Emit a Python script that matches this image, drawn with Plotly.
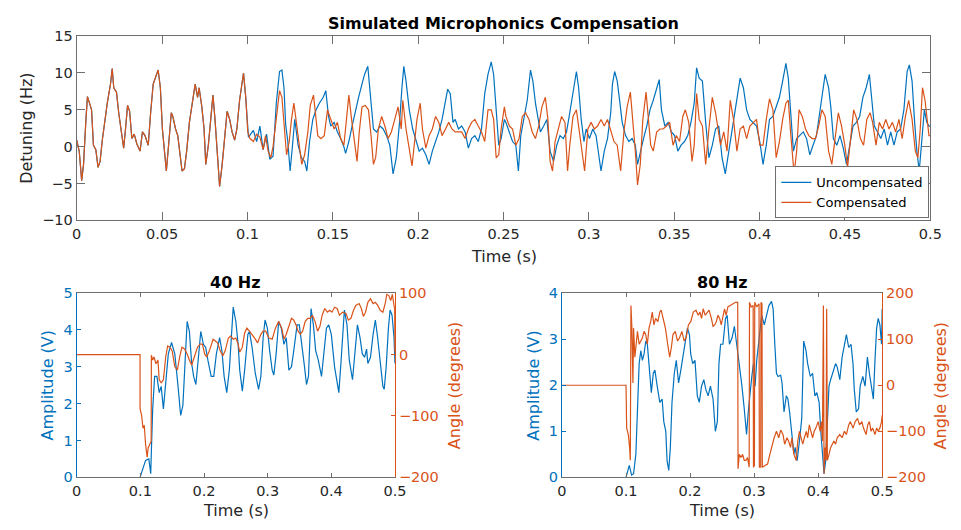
import plotly.graph_objects as go

BLUE = '#0072BD'
ORANGE = '#D95319'
LINE_GRAY = '#6e6e6e'
TEXT = '#262626'
FONT = 'DejaVu Sans'
W, H = 961, 530

# ---------------- data: top panel (time s, detuning Hz) ----------------
# shared segment before compensation switches on (both curves identical)
shared_before = [(0.0, 0.9), (0.0015, -0.65), (0.0029, -4.6), (0.004, -2.4), (0.0054, 3.7), (0.0063, 6.8),
    (0.0079, 5.6), (0.0087, 5.0), (0.0098, 0.2), (0.0112, -0.4), (0.0125, -2.8), (0.0137, -2.0), (0.015, 0.9),
    (0.0163, 3.3), (0.0179, 5.9), (0.0198, 8.5), (0.0208, 10.6), (0.0217, 8.0), (0.0233, 7.4), (0.0246, 4.6),
    (0.026, 2.0), (0.0275, -0.2), (0.0285, 2.2), (0.0298, 5.6), (0.031, 4.8), (0.0323, 1.1), (0.0337, 1.7),
    (0.0352, 0.4), (0.0371, -0.6), (0.0385, 2.0), (0.04, 1.5), (0.0419, 0.2), (0.0433, 4.6), (0.0448, 8.5),
    (0.0477, 10.4), (0.049, 8.0), (0.0502, 2.4), (0.0515, -1.5), (0.0525, -3.3), (0.054, 0.7), (0.0554, 4.6),
    (0.0563, 4.1), (0.0579, 2.4), (0.0592, 1.5), (0.0606, -1.5), (0.0617, -3.3), (0.0631, -3.0), (0.0644, -0.6),
    (0.066, 3.3), (0.0679, 5.9), (0.0694, 8.5), (0.0708, 6.7), (0.0717, 8.0), (0.0733, 5.4), (0.0746, 2.4),
    (0.0756, -2.4), (0.0771, 0.2), (0.0785, 3.7), (0.0798, 7.0), (0.081, 3.7), (0.0823, -0.6), (0.0837, -5.4),
    (0.0852, -2.4), (0.0867, 1.1), (0.0881, 4.8), (0.0896, 3.7), (0.091, 2.0), (0.0925, 0.9), (0.0938, 2.4),
    (0.0954, 6.3), (0.0977, 10.0), (0.099, 6.7)]

uncompensated_after = [(0.1006, 1.3), (0.1035, 2.2), (0.1054, 0.7), (0.1073, 2.8), (0.1092, -0.4), (0.1112, 1.7),
    (0.1131, -1.7), (0.115, -1.3), (0.1169, 5.9), (0.1188, 10.2), (0.1202, 10.4), (0.1214, 8.0), (0.1224, 3.0),
    (0.1236, 0.8), (0.125, -3.3), (0.1264, 0.2), (0.1277, 3.7), (0.1297, 0.2), (0.1316, -1.5), (0.1335, -2.0),
    (0.1348, -3.3), (0.1364, 0.7), (0.1383, 3.7), (0.1402, 5.0), (0.1421, 5.9), (0.1444, 6.7), (0.1459, 7.6),
    (0.1475, 4.1), (0.1488, 2.8), (0.1508, 3.3), (0.1527, 2.0), (0.1546, 1.1), (0.1565, 0.0), (0.1575, -0.9),
    (0.1594, 0.7), (0.1613, 2.8), (0.1632, 5.0), (0.1651, 6.7), (0.1671, 8.5), (0.1686, 9.8), (0.1705, 10.9),
    (0.1718, 7.6), (0.1738, 2.4), (0.1757, 2.0), (0.1776, 2.8), (0.1795, 2.4), (0.1815, 1.5), (0.1834, 0.2),
    (0.1853, -3.7), (0.1872, -1.5), (0.1891, 3.3), (0.1905, 8.0), (0.1916, 10.9), (0.1929, 8.9), (0.1948, 5.0),
    (0.1968, 2.4), (0.1987, 0.7), (0.2006, -0.6), (0.2025, -0.2), (0.2045, -1.1), (0.2064, -2.4), (0.2083, -0.6),
    (0.2102, 0.7), (0.2121, 2.0), (0.214, 3.7), (0.216, 5.9), (0.2173, 7.8), (0.2188, 7.2), (0.2204, 3.3),
    (0.2217, 3.7), (0.2236, 2.4), (0.2255, 2.8), (0.2275, 2.0), (0.2294, -0.2), (0.2313, 1.1), (0.2332, 1.5),
    (0.2352, 0.7), (0.2371, 2.4), (0.239, 7.2), (0.2409, 9.8), (0.2428, 11.5), (0.2442, 9.8), (0.2457, 4.6),
    (0.2472, 0.2), (0.2486, 1.1), (0.2505, 3.7), (0.2514, 3.3), (0.2534, 2.0), (0.2553, 0.7), (0.2572, 0.2),
    (0.2587, -3.3), (0.2601, 1.5), (0.262, 3.7), (0.2639, 6.3), (0.2658, 10.4), (0.2672, 8.9), (0.2687, 5.9),
    (0.2702, 3.7), (0.2716, 2.0), (0.2735, 2.8), (0.2754, 3.7), (0.2773, -0.6), (0.2793, -2.0), (0.2812, 0.2),
    (0.2831, 1.5), (0.285, 1.1), (0.2869, 2.0), (0.2888, 4.6), (0.2907, 7.6), (0.2927, 10.2), (0.294, 8.0),
    (0.2955, 3.7), (0.2971, 0.7), (0.2984, 2.4), (0.3003, 1.1), (0.3023, 2.4), (0.3042, 1.5), (0.3055, -0.6),
    (0.3071, -3.3), (0.309, -0.6), (0.3109, 1.1), (0.3128, 4.6), (0.3138, 8.5), (0.3151, 10.2), (0.3166, 8.9),
    (0.3182, 5.9), (0.3195, 3.3), (0.3215, 1.5), (0.3234, 0.7), (0.3253, 1.1), (0.3272, 0.2), (0.3285, -2.4),
    (0.3301, -0.6), (0.332, 1.1), (0.3339, 2.8), (0.3358, 5.0), (0.3377, 6.3), (0.3397, 8.0), (0.3412, 9.1),
    (0.3425, 5.0), (0.3445, 2.8), (0.3464, 3.3), (0.3483, 2.0), (0.3502, 1.5), (0.3521, -0.6), (0.354, 0.2),
    (0.356, 0.7), (0.3579, 1.5), (0.3598, 3.3), (0.3617, 5.9), (0.3631, 10.7), (0.3646, 9.3), (0.3665, 8.9),
    (0.3684, 3.3), (0.3703, -1.5), (0.3723, 0.2), (0.3742, 2.4), (0.3761, 2.8), (0.378, -1.5), (0.3799, -3.7),
    (0.3819, -0.6), (0.3838, 2.4), (0.3857, 5.4), (0.3886, 9.3), (0.3905, 8.0), (0.3924, 5.0), (0.3943, 3.7),
    (0.3963, 3.3), (0.3982, 2.8), (0.4001, 0.7), (0.402, -2.4), (0.4039, 0.2), (0.4058, 3.7), (0.4078, 4.1),
    (0.4097, 5.4), (0.4116, 6.7), (0.4135, 8.9), (0.4154, 11.3), (0.4168, 9.3), (0.4183, 3.7), (0.4198, -0.6),
    (0.4217, 1.1), (0.4237, 1.5), (0.4256, 2.0), (0.4275, 1.1), (0.4294, -1.1), (0.4313, 0.2), (0.4333, 1.5),
    (0.4352, 4.6), (0.4371, 7.6), (0.4384, 9.8), (0.4404, 8.0), (0.4417, 5.4), (0.4432, 1.1), (0.4452, 0.2),
    (0.4471, 1.5), (0.449, -0.2), (0.4509, -2.4), (0.4528, 0.2), (0.4547, 2.8), (0.4567, 3.3), (0.4586, 4.1),
    (0.4605, 6.7), (0.4624, 8.0), (0.4643, 9.8), (0.4659, 6.3), (0.4672, 2.8), (0.4691, 2.0), (0.471, 1.1),
    (0.473, 2.4), (0.4749, 0.2), (0.4768, 2.0), (0.4787, 0.2), (0.4806, 2.0), (0.4826, 2.4), (0.4845, 5.0),
    (0.4864, 10.2), (0.4877, 11.1), (0.4893, 8.9), (0.4908, 3.3), (0.4921, -0.6), (0.4935, -3.3), (0.495, 1.5),
    (0.4965, 5.0), (0.4979, 3.3), (0.4992, 2.8), (0.5, 2.8)]

compensated_after = [(0.1002, 2.0), (0.1015, 1.1), (0.1035, 0.7), (0.1054, 1.7), (0.1073, 1.3), (0.1092, -0.4),
    (0.1106, 1.5), (0.1121, -0.6), (0.1137, -1.5), (0.115, 0.0), (0.1169, 4.1), (0.1188, 7.6), (0.1202, 6.7),
    (0.1215, 2.5), (0.1229, -1.1), (0.1245, 0.7), (0.1258, 3.7), (0.1272, 5.9), (0.1287, 3.3), (0.1302, 1.1),
    (0.1318, -2.4), (0.1335, -1.1), (0.1354, 2.0), (0.1368, 5.6), (0.1387, 7.0), (0.1398, 4.6), (0.1412, 1.5),
    (0.1431, 1.1), (0.145, 1.5), (0.1469, 5.0), (0.1488, 3.7), (0.1508, 2.4), (0.1527, 3.3), (0.1546, 1.1),
    (0.1565, 0.2), (0.1575, 2.4), (0.1594, 7.0), (0.161, 3.7), (0.1629, 0.2), (0.1642, -2.0), (0.1655, 2.0),
    (0.1671, 5.4), (0.169, 5.6), (0.1709, 5.0), (0.1724, 1.5), (0.1738, -2.4), (0.1751, -1.5), (0.1767, 2.4),
    (0.1786, 4.1), (0.1805, 2.8), (0.1824, 1.1), (0.1843, 2.0), (0.1863, 3.7), (0.1882, 5.4), (0.1901, 2.4),
    (0.191, 6.3), (0.1929, 2.4), (0.1948, -0.6), (0.1964, -2.6), (0.1977, 0.2), (0.1993, 3.7), (0.2012, 5.9),
    (0.2025, 2.4), (0.2045, -0.2), (0.2064, 1.5), (0.2083, 2.4), (0.2102, 4.1), (0.2121, 3.3), (0.214, 1.5),
    (0.216, 2.4), (0.2179, 3.3), (0.2198, 2.4), (0.2217, 2.0), (0.2236, 2.0), (0.2255, 2.0), (0.2275, 1.1),
    (0.2294, 2.4), (0.2313, 3.3), (0.2332, 3.7), (0.2352, 2.8), (0.2371, 2.0), (0.239, 0.7), (0.2409, 5.0),
    (0.2428, 5.0), (0.2442, 3.7), (0.2457, -1.5), (0.2472, -1.1), (0.2486, 2.4), (0.2505, 5.4), (0.2514, 4.1),
    (0.2534, 2.8), (0.2553, 2.4), (0.2572, 0.2), (0.2591, 1.1), (0.261, 4.1), (0.2629, 4.6), (0.2649, 3.7),
    (0.2668, 2.0), (0.2687, 1.1), (0.2706, 2.8), (0.2725, 5.4), (0.2745, 6.7), (0.276, 3.7), (0.2773, -2.0),
    (0.2787, -3.3), (0.2802, 0.7), (0.2821, 2.4), (0.284, 4.1), (0.286, 3.3), (0.2875, -3.3), (0.2888, 0.2),
    (0.2907, 4.1), (0.2927, 5.0), (0.2946, 1.5), (0.2959, -0.6), (0.2975, -3.3), (0.2994, 2.4), (0.3013, 3.3),
    (0.3032, 2.4), (0.3051, 2.8), (0.3071, 3.7), (0.309, 2.8), (0.3109, 3.7), (0.3128, 2.0), (0.3147, 0.7),
    (0.3166, 0.2), (0.3186, -3.3), (0.3205, 2.0), (0.3224, 5.4), (0.3243, 7.4), (0.3258, 3.7), (0.3272, -0.6),
    (0.3285, -5.2), (0.3301, -2.4), (0.3316, 3.7), (0.3335, 7.4), (0.3349, 3.7), (0.3362, 0.2), (0.3377, -0.6),
    (0.3397, 2.0), (0.3416, 2.4), (0.3435, 2.4), (0.3454, 2.8), (0.3473, 3.3), (0.3493, 0.2), (0.3512, 1.5),
    (0.3531, 0.7), (0.355, 4.1), (0.3565, 5.0), (0.3585, 3.3), (0.3604, -2.0), (0.3617, 0.2), (0.3631, 7.2),
    (0.3646, 3.7), (0.3665, 2.8), (0.3684, -2.4), (0.3703, 2.4), (0.3723, 6.7), (0.3742, 4.6), (0.3761, 1.5),
    (0.3771, 0.2), (0.379, 2.0), (0.3809, -0.6), (0.3828, 6.3), (0.3847, 3.7), (0.3867, -0.6), (0.3886, 2.4),
    (0.3905, 2.8), (0.3924, 1.1), (0.3943, 2.8), (0.3963, 3.3), (0.3982, 3.7), (0.4001, 0.2), (0.402, 0.2),
    (0.4039, 3.7), (0.4058, 6.5), (0.4078, 5.0), (0.4097, -1.5), (0.4116, 0.7), (0.4135, 3.7), (0.4154, 5.9),
    (0.4168, 6.3), (0.4183, 1.5), (0.4202, -3.7), (0.4217, -0.6), (0.4231, 5.0), (0.425, 4.1), (0.4269, 2.4),
    (0.4288, 1.5), (0.4308, 1.1), (0.4327, 1.1), (0.4346, 2.8), (0.4365, 5.0), (0.4384, 4.1), (0.4404, -0.6),
    (0.4423, -2.4), (0.4442, 1.1), (0.4461, 4.6), (0.448, 2.8), (0.4499, 0.2), (0.4515, -2.8), (0.4532, 1.1),
    (0.4551, 5.0), (0.457, 3.7), (0.459, 1.1), (0.4609, 0.2), (0.4628, 3.7), (0.4647, 4.6), (0.4662, 3.3),
    (0.4682, 0.2), (0.4701, 3.3), (0.472, 2.4), (0.4739, 3.7), (0.4758, 2.4), (0.4778, 3.3), (0.4797, 2.0),
    (0.4816, 3.7), (0.4835, 1.1), (0.4854, 4.1), (0.4873, 6.3), (0.4893, 3.7), (0.4912, -0.6), (0.4927, -1.5),
    (0.4941, 2.4), (0.4954, 8.0), (0.4969, 6.3), (0.4985, 2.8), (0.4992, 1.5), (0.5, 1.5)]

# ---------------- data: 40 Hz panel ----------------
amp40 = [(0.0995, 0.0), (0.1031, 0.19), (0.1082, 0.46), (0.1133, 0.5), (0.1163, 0.1), (0.1173, 0.72),
    (0.1194, 1.86), (0.1224, 2.74), (0.126, 2.74), (0.1296, 2.3), (0.1327, 2.47), (0.1362, 1.86), (0.1388, 2.39),
    (0.1439, 3.35), (0.149, 3.66), (0.1541, 3.35), (0.1592, 2.47), (0.1633, 1.68), (0.1668, 1.95), (0.1704, 3.18),
    (0.1735, 4.23), (0.177, 3.96), (0.1806, 3.09), (0.1837, 2.74), (0.1872, 2.52), (0.1908, 3.18), (0.1949, 3.96),
    (0.199, 3.61), (0.2026, 3.53), (0.2061, 3.18), (0.2112, 2.74), (0.2153, 2.74), (0.2194, 3.35), (0.2245, 3.79),
    (0.2281, 3.44), (0.2316, 2.74), (0.2357, 2.3), (0.2398, 2.91), (0.2434, 4.05), (0.2459, 4.62), (0.25, 4.23),
    (0.2536, 3.61), (0.2561, 2.91), (0.2602, 2.34), (0.2638, 2.91), (0.2689, 3.88), (0.2714, 3.96), (0.2755, 3.53),
    (0.2806, 2.82), (0.2857, 2.39), (0.2893, 2.74), (0.2929, 3.79), (0.2959, 4.27), (0.2995, 4.05), (0.3031, 3.44),
    (0.3071, 2.91), (0.3097, 2.78), (0.3133, 3.35), (0.3173, 4.23), (0.3214, 4.05), (0.3256, 3.61), (0.3292, 3.79),
    (0.3333, 2.91), (0.3374, 3.0), (0.341, 3.44), (0.3462, 4.14), (0.3497, 4.14), (0.3538, 3.61), (0.3579, 3.0),
    (0.361, 2.52), (0.3641, 2.74), (0.3682, 4.58), (0.3718, 4.14), (0.3754, 3.44), (0.3795, 3.18), (0.3846, 2.74),
    (0.3887, 3.44), (0.3923, 4.05), (0.3959, 4.14), (0.4, 3.88), (0.4051, 3.0), (0.4092, 2.56), (0.4118, 2.3),
    (0.4154, 3.18), (0.4205, 4.54), (0.4246, 4.14), (0.4282, 3.18), (0.4333, 2.65), (0.4369, 3.35), (0.441, 4.14),
    (0.4451, 3.79), (0.4487, 3.35), (0.4523, 3.26), (0.4554, 3.48), (0.4574, 3.09), (0.4615, 3.26), (0.4656, 3.88),
    (0.4692, 4.27), (0.4728, 3.79), (0.4769, 3.09), (0.481, 2.47), (0.4831, 2.39), (0.4862, 3.0), (0.4897, 4.05),
    (0.4923, 4.54), (0.4954, 4.4), (0.4985, 3.79), (0.5, 3.09)]

ang40 = [(0.0, 0.0), (0.0995, 0.0), (0.0995, -88), (0.102, -99), (0.1041, -120), (0.1061, -115), (0.1082, -146),
    (0.1107, -167), (0.1122, -152), (0.1143, -146), (0.1163, -141), (0.117, -141), (0.1173, -1), (0.1194, -9),
    (0.1214, -4), (0.1245, -15), (0.1276, -9), (0.1296, -41), (0.1327, -46), (0.1362, -41), (0.1398, -4),
    (0.1429, 14), (0.1464, 12), (0.15, 6), (0.1541, -20), (0.1582, -25), (0.1617, -4), (0.1653, 12), (0.1694, 9),
    (0.1735, 1), (0.177, -9), (0.1806, -17), (0.1847, -4), (0.1898, 12), (0.1939, 17), (0.1974, 17), (0.201, 1),
    (0.2041, -4), (0.2077, 4), (0.2112, 17), (0.2143, 25), (0.2179, 22), (0.2214, 19), (0.2255, 6), (0.2296, -2),
    (0.2332, 6), (0.2383, 27), (0.2418, 30), (0.2459, 25), (0.25, 27), (0.2536, 17), (0.2561, 4), (0.2602, 12),
    (0.2638, 35), (0.2673, 43), (0.2714, 38), (0.2755, 33), (0.2806, 25), (0.2842, 19), (0.2893, 33), (0.2929, 38),
    (0.2969, 38), (0.302, 27), (0.3071, 25), (0.3122, 43), (0.3173, 54), (0.3221, 43), (0.3256, 25), (0.3292, 33),
    (0.3333, 48), (0.3374, 59), (0.341, 56), (0.3446, 48), (0.3477, 38), (0.3513, 33), (0.3549, 38), (0.359, 54),
    (0.3631, 59), (0.3667, 59), (0.3703, 64), (0.3744, 54), (0.3785, 38), (0.3821, 46), (0.3856, 64), (0.3897, 75),
    (0.3938, 69), (0.3974, 72), (0.401, 69), (0.4051, 77), (0.4092, 75), (0.4128, 64), (0.4179, 69), (0.4231, 67),
    (0.4267, 56), (0.4308, 59), (0.4349, 72), (0.4385, 80), (0.4436, 83), (0.4472, 75), (0.4503, 62), (0.4538, 69),
    (0.4574, 85), (0.4615, 91), (0.4656, 83), (0.4692, 85), (0.4728, 80), (0.4769, 72), (0.481, 69), (0.4846, 83),
    (0.4872, 98), (0.4903, 96), (0.4933, 88), (0.4959, 98), (0.4985, 80), (0.4995, 75), (0.5, 5)]

# ---------------- data: 80 Hz panel ----------------
amp80 = [(0.1, 0.0), (0.1026, 0.15), (0.1051, 0.26), (0.1087, 0.05), (0.1118, 0.08), (0.1154, 0.51),
    (0.1179, 1.49), (0.1205, 2.47), (0.1231, 2.75), (0.1256, 2.54), (0.1282, 2.68), (0.1308, 2.96), (0.1333, 2.89),
    (0.1359, 2.47), (0.1395, 1.84), (0.1426, 2.26), (0.1451, 2.33), (0.1487, 1.98), (0.1528, 1.63), (0.1564, 1.7),
    (0.159, 1.21), (0.1621, 1.0), (0.1641, 0.36), (0.1667, 0.15), (0.1692, 0.65), (0.1718, 1.63), (0.1754, 2.26),
    (0.1785, 2.54), (0.1821, 2.05), (0.1856, 2.33), (0.1887, 2.61), (0.1923, 2.89), (0.1959, 3.24), (0.199, 3.1),
    (0.201, 2.68), (0.2041, 2.47), (0.2077, 2.54), (0.2113, 1.77), (0.2144, 1.63), (0.2179, 1.98), (0.2215, 2.12),
    (0.2246, 1.91), (0.2282, 1.77), (0.2318, 1.98), (0.2359, 1.7), (0.2395, 1.0), (0.2426, 1.21), (0.2451, 2.47),
    (0.2477, 2.89), (0.2513, 2.89), (0.2554, 3.45), (0.2579, 3.52), (0.2615, 2.89), (0.2656, 3.03), (0.2692, 3.28),
    (0.2728, 2.89), (0.2769, 2.47), (0.281, 1.98), (0.2846, 1.49), (0.2882, 0.93), (0.2913, 1.49), (0.2949, 2.05),
    (0.2964, 2.19), (0.299, 2.47), (0.3015, 1.98), (0.3041, 2.54), (0.3077, 3.03), (0.3118, 3.52), (0.3159, 3.31),
    (0.3195, 3.52), (0.3231, 3.73), (0.3272, 3.82), (0.3297, 3.66), (0.3323, 2.89), (0.3349, 2.26), (0.3374, 2.19),
    (0.3415, 2.22), (0.3436, 2.05), (0.3467, 1.42), (0.3503, 1.77), (0.3528, 1.7), (0.3554, 1.42), (0.359, 1.0),
    (0.3621, 0.51), (0.3641, 0.65), (0.3672, 0.36), (0.3708, 0.79), (0.3744, 1.28), (0.3774, 2.96), (0.381, 2.75),
    (0.3836, 2.47), (0.3877, 2.19), (0.3913, 2.26), (0.3949, 1.77), (0.3979, 1.84), (0.4015, 1.63), (0.4041, 1.0),
    (0.4067, 0.51), (0.4092, 0.08), (0.4118, 0.36), (0.4144, 1.21), (0.4169, 1.98), (0.4195, 2.12), (0.4236, 2.33),
    (0.4272, 2.47), (0.4297, 2.4), (0.4338, 2.12), (0.4374, 2.61), (0.441, 2.89), (0.4441, 3.1), (0.4477, 2.82),
    (0.4513, 2.89), (0.4544, 2.47), (0.4564, 1.91), (0.4595, 1.42), (0.4631, 1.49), (0.4656, 1.98), (0.4697, 2.19),
    (0.4733, 1.98), (0.4769, 2.61), (0.48, 2.26), (0.4836, 1.98), (0.4862, 1.7), (0.4887, 2.54), (0.4913, 3.24),
    (0.4938, 3.45), (0.4964, 3.31), (0.499, 2.89), (0.5, 3.66)]

ang80 = [(0.0, 0.0), (0.1, 0.0), (0.101, -93), (0.1036, -107), (0.1056, -135), (0.1067, -163), (0.1077, 173),
    (0.1092, 124), (0.1108, 5), (0.1118, 124), (0.1138, 61), (0.1159, 89), (0.1179, 117), (0.1205, 89),
    (0.1231, 96), (0.1256, 103), (0.1282, 117), (0.1308, 110), (0.1333, 89), (0.1359, 124), (0.1385, 138),
    (0.141, 159), (0.1436, 131), (0.1462, 145), (0.1497, 138), (0.1528, 159), (0.1549, 163), (0.1579, 145),
    (0.1615, 124), (0.1651, 89), (0.1682, 61), (0.1708, 82), (0.1733, 110), (0.1769, 117), (0.1805, 96),
    (0.1836, 103), (0.1872, 117), (0.1908, 96), (0.1938, 103), (0.1974, 131), (0.201, 138), (0.2051, 159),
    (0.2092, 163), (0.2128, 152), (0.2154, 159), (0.2179, 145), (0.2205, 166), (0.2236, 152), (0.2267, 159),
    (0.2297, 163), (0.2333, 145), (0.2359, 128), (0.2385, 131), (0.241, 138), (0.2436, 152), (0.2462, 145),
    (0.2487, 131), (0.2513, 152), (0.2538, 166), (0.2564, 152), (0.259, 170), (0.2626, 173), (0.2667, 177),
    (0.2708, 180), (0.2744, 180), (0.2749, -181), (0.2769, -150), (0.2795, -157), (0.2821, -150), (0.2846, -163),
    (0.2872, -163), (0.2897, -157), (0.2923, -178), (0.2928, 180), (0.2954, 170), (0.2985, 173), (0.299, -178),
    (0.3005, -174), (0.301, 180), (0.3041, 170), (0.3077, 177), (0.3082, -178), (0.3103, -178), (0.3108, 180),
    (0.3123, 177), (0.3128, -178), (0.3169, -174), (0.321, -171), (0.3246, -150), (0.3282, -128), (0.3313, -114),
    (0.3349, -100), (0.3385, -114), (0.3415, -97), (0.3451, -107), (0.3477, -128), (0.3513, -114), (0.3538, -121),
    (0.3569, -135), (0.359, -114), (0.3621, -150), (0.3656, -163), (0.3682, -121), (0.3708, -100), (0.3733, -114),
    (0.3759, -128), (0.3785, -114), (0.3815, -100), (0.3836, -114), (0.3862, -86), (0.3887, -100), (0.3913, -114),
    (0.3938, -100), (0.3964, -93), (0.4, -79), (0.4031, -100), (0.4051, -79), (0.4067, -121), (0.4082, 173),
    (0.4092, -192), (0.4108, -135), (0.4123, -163), (0.4133, 166), (0.4144, -163), (0.4169, -150), (0.4195, -135),
    (0.4221, -128), (0.4246, -121), (0.4272, -128), (0.4297, -114), (0.4338, -107), (0.4374, -114), (0.441, -100),
    (0.4441, -107), (0.4477, -86), (0.4503, -79), (0.4544, -93), (0.4579, -79), (0.4615, -72), (0.4646, -86),
    (0.4682, -79), (0.4708, -93), (0.4749, -107), (0.4774, -86), (0.48, -79), (0.4826, -100), (0.4851, -93),
    (0.4887, -107), (0.4913, -93), (0.4938, -100), (0.4964, -93), (0.499, -79), (0.5, -65)]

# tick labels
top_x_ticks = [0, 0.05, 0.1, 0.15, 0.2, 0.25, 0.3, 0.35, 0.4, 0.45, 0.5]
top_x_labels = ['0', '0.05', '0.1', '0.15', '0.2', '0.25', '0.3', '0.35', '0.4', '0.45', '0.5']
top_y_ticks = [-10, -5, 0, 5, 10, 15]
bottom_x_ticks = [0, 0.1, 0.2, 0.3, 0.4, 0.5]
bottom_x_labels = ['0', '0.1', '0.2', '0.3', '0.4', '0.5']


def xs(pts):
    return [p[0] for p in pts]


def ys(pts):
    return [p[1] for p in pts]


def lab(v):
    s = ('%g' % v)
    return s.replace('-', '\u2212')


fig = go.Figure()
LW = 1.2
fig.add_trace(go.Scatter(x=xs(shared_before + uncompensated_after), y=ys(shared_before + uncompensated_after),
                         mode='lines', name='Uncompensated', line=dict(color=BLUE, width=LW),
                         xaxis='x', yaxis='y'))
fig.add_trace(go.Scatter(x=xs(shared_before + compensated_after), y=ys(shared_before + compensated_after),
                         mode='lines', name='Compensated', line=dict(color=ORANGE, width=LW),
                         xaxis='x', yaxis='y'))
fig.add_trace(go.Scatter(x=xs(amp40), y=ys(amp40), mode='lines', showlegend=False,
                         line=dict(color=BLUE, width=LW), xaxis='x2', yaxis='y2'))
fig.add_trace(go.Scatter(x=xs(ang40), y=ys(ang40), mode='lines', showlegend=False,
                         line=dict(color=ORANGE, width=LW), xaxis='x2', yaxis='y3'))
fig.add_trace(go.Scatter(x=xs(amp80), y=ys(amp80), mode='lines', showlegend=False,
                         line=dict(color=BLUE, width=LW), xaxis='x3', yaxis='y4'))
fig.add_trace(go.Scatter(x=xs(ang80), y=ys(ang80), mode='lines', showlegend=False,
                         line=dict(color=ORANGE, width=LW), xaxis='x3', yaxis='y5'))

TICK_FS = 14.5
LABEL_FS = 16


def px(x):
    return x / W


def py(y):
    return 1 - y / H


def axis(color_line, color_text, ticklen, **kw):
    d = dict(showline=True, linecolor=color_line, linewidth=1, ticks='inside', ticklen=ticklen,
             tickcolor=color_line, tickwidth=1, showgrid=False, zeroline=False,
             tickfont=dict(family=FONT, size=TICK_FS, color=color_text), fixedrange=True)
    d.update(kw)
    return d


top_dom_x = [px(73), px(942)]
top_dom_y = [py(219), py(29)]
bl_dom_x = [px(73), px(397)]
br_dom_x = [px(567), px(893)]
bot_dom_y = [py(484), py(294)]

fig.update_layout(
    width=W, height=H, margin=dict(l=0, r=0, t=0, b=0),
    paper_bgcolor='white', plot_bgcolor='white',
    font=dict(family=FONT, color=TEXT),
    xaxis=axis(LINE_GRAY, TEXT, 8, domain=top_dom_x, anchor='y', range=[0, 0.5], mirror='ticks',
               tickvals=top_x_ticks, ticktext=top_x_labels),
    yaxis=axis(LINE_GRAY, TEXT, 8, domain=top_dom_y, anchor='x', range=[-10, 15], mirror='ticks',
               tickvals=top_y_ticks, ticktext=[lab(v) for v in top_y_ticks]),
    xaxis2=axis(LINE_GRAY, TEXT, 4, domain=bl_dom_x, anchor='y2', range=[0, 0.5], mirror='ticks',
                tickvals=bottom_x_ticks, ticktext=bottom_x_labels),
    yaxis2=axis(BLUE, BLUE, 4, domain=bot_dom_y, anchor='x2', range=[0, 5],
                tickvals=[0, 1, 2, 3, 4, 5], ticktext=[lab(v) for v in [0, 1, 2, 3, 4, 5]]),
    yaxis3=axis(ORANGE, ORANGE, 4, overlaying='y2', side='right', anchor='x2', range=[-200, 100],
                tickvals=[-200, -100, 0, 100], ticktext=[lab(v) for v in [-200, -100, 0, 100]]),
    xaxis3=axis(LINE_GRAY, TEXT, 4, domain=br_dom_x, anchor='y4', range=[0, 0.5], mirror='ticks',
                tickvals=bottom_x_ticks, ticktext=bottom_x_labels),
    yaxis4=axis(BLUE, BLUE, 4, domain=bot_dom_y, anchor='x3', range=[0, 4],
                tickvals=[0, 1, 2, 3, 4], ticktext=[lab(v) for v in [0, 1, 2, 3, 4]]),
    yaxis5=axis(ORANGE, ORANGE, 4, overlaying='y4', side='right', anchor='x3', range=[-200, 200],
                tickvals=[-200, -100, 0, 100, 200], ticktext=[lab(v) for v in [-200, -100, 0, 100, 200]]),
    legend=dict(x=px(941), y=py(217), xanchor='right', yanchor='bottom', bgcolor='white',
                bordercolor=LINE_GRAY, borderwidth=1, font=dict(family=FONT, size=13, color='black'),
                itemwidth=30, tracegroupgap=0),
    showlegend=True,
)


def note(text, x, y, size=LABEL_FS, color=TEXT, angle=0, bold=False):
    fig.add_annotation(text=('<b>%s</b>' % text) if bold else text, x=px(x), y=py(y), xref='paper', yref='paper',
                       showarrow=False, textangle=angle, xanchor='center', yanchor='middle',
                       font=dict(family=FONT, size=size, color=color))


note('Simulated Microphonics Compensation', 507.5, 16, bold=True, color='black')
note('Detuning (Hz)', 22, 124, angle=-90)
note('Time (s)', 507.5, 256)
note('40 Hz', 235, 283, bold=True, color='black')
note('80 Hz', 730, 283, bold=True, color='black')
note('Amplitude (V)', 43, 389, angle=-90, color=BLUE)
note('Angle (degrees)', 457, 389, angle=-90, color=ORANGE)
note('Amplitude (V)', 538, 389, angle=-90, color=BLUE)
note('Angle (degrees)', 952, 389, angle=-90, color=ORANGE)
note('Time (s)', 235, 518)
note('Time (s)', 730, 518)

fig.write_html('out.html')
